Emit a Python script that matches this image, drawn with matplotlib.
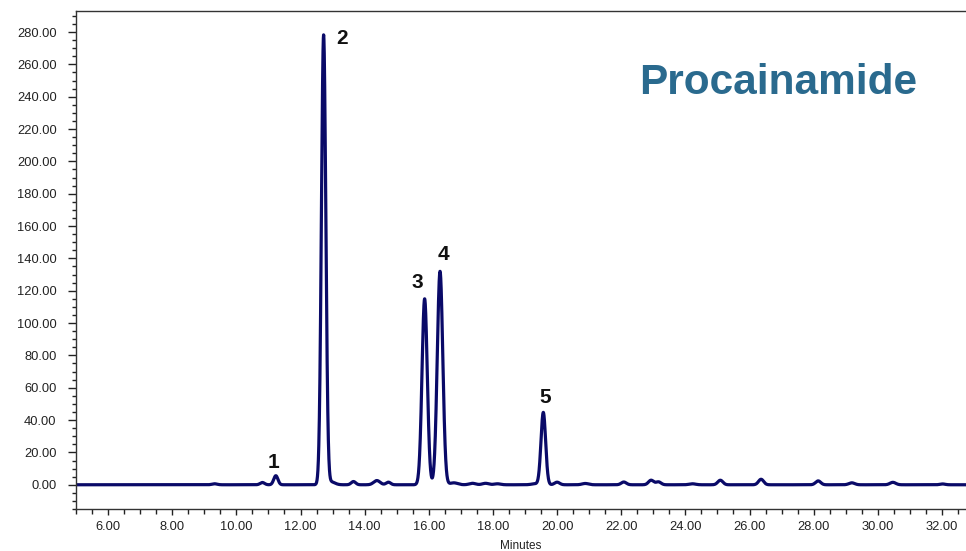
import numpy as np
import matplotlib
matplotlib.use("Agg")
import matplotlib.pyplot as plt
from matplotlib.ticker import MultipleLocator, FormatStrFormatter

# === Peak table (minutes, height, width) ===
peak_times = [9.32, 10.81, 11.23, 12.72, 12.95, 13.65, 14.38, 14.74,
              15.87, 16.35, 16.78, 17.36, 17.77, 18.14, 19.32, 19.57,
              20.00, 20.88, 22.08, 22.93, 23.16, 24.22, 25.09, 26.36,
              28.14, 29.19, 30.47, 32.02]
peak_heights = [0.6, 1.4, 5.6, 278.0, 1.8, 2.0, 2.6, 1.6,
                115.0, 132.0, 1.2, 0.9, 0.9, 0.6, 0.6, 44.7,
                1.6, 0.8, 1.7, 2.8, 1.8, 0.6, 2.8, 3.4,
                2.4, 1.2, 1.5, 0.5]
peak_widths = [0.08, 0.07, 0.065, 0.068, 0.12, 0.07, 0.1, 0.07,
               0.082, 0.086, 0.12, 0.1, 0.1, 0.1, 0.12, 0.072,
               0.08, 0.1, 0.08, 0.08, 0.08, 0.1, 0.08, 0.08,
               0.08, 0.09, 0.09, 0.08]

# === Labelled peaks ===
label_names = ["1", "2", "3", "4", "5"]
label_peaks = [2, 3, 8, 9, 15]          # index into the peak table
label_offsets = [(-1.5, 3), (13, -9), (-5, 5), (2.5, 5), (1.5, 4)]  # points

x_ticks = np.arange(6, 33, 2)
y_ticks = np.arange(0, 281, 20)

# === Trace ===
t = np.linspace(5.0, 32.75, 8000)
signal = np.zeros_like(t)
for tr, h, w in zip(peak_times, peak_heights, peak_widths):
    signal += h * np.exp(-0.5 * ((t - tr) / w) ** 2)

plt.rcParams["font.family"] = ["Liberation Sans", "DejaVu Sans"]

fig = plt.figure(figsize=(9.66, 5.51), dpi=100)
ax = fig.add_axes([0.0787, 0.0762, 0.9213, 0.9038])

ax.plot(t, signal, color="#0a0a68", lw=2.3, solid_capstyle="round")

ax.set_xlim(5.0, 32.75)
ax.set_ylim(-15, 293)

ax.set_xticks(x_ticks)
ax.set_yticks(y_ticks)
ax.xaxis.set_minor_locator(MultipleLocator(0.5))
ax.yaxis.set_minor_locator(MultipleLocator(5))
ax.xaxis.set_major_formatter(FormatStrFormatter("%.2f"))
ax.yaxis.set_major_formatter(FormatStrFormatter("%.2f"))

ax.tick_params(axis="y", which="major", direction="out", length=6, width=1,
               pad=8, labelsize=9.3, colors="#222222")
ax.tick_params(axis="y", which="minor", direction="out", length=3, width=1,
               colors="#222222")
ax.tick_params(axis="x", which="major", direction="out", length=4.5, width=1,
               pad=4, labelsize=9.3, colors="#222222")
ax.tick_params(axis="x", which="minor", direction="out", length=3.5, width=1,
               colors="#222222")

for side in ["left", "bottom", "top"]:
    ax.spines[side].set_color("#333333")
    ax.spines[side].set_linewidth(1.0)
ax.spines["right"].set_visible(False)

ax.set_xlabel("Minutes", fontsize=8.5, labelpad=5, color="#222222")

for name, idx, off in zip(label_names, label_peaks, label_offsets):
    ax.annotate(name, (peak_times[idx], peak_heights[idx]), xytext=off,
                textcoords="offset points", ha="center", va="bottom",
                fontsize=15, fontweight="bold", color="#111111")

ax.text(0.789, 0.855, "Procainamide", transform=ax.transAxes,
        ha="center", va="center", fontsize=30.5, fontweight="bold",
        color="#2a6a8e")

fig.savefig("out.png", dpi=100)
